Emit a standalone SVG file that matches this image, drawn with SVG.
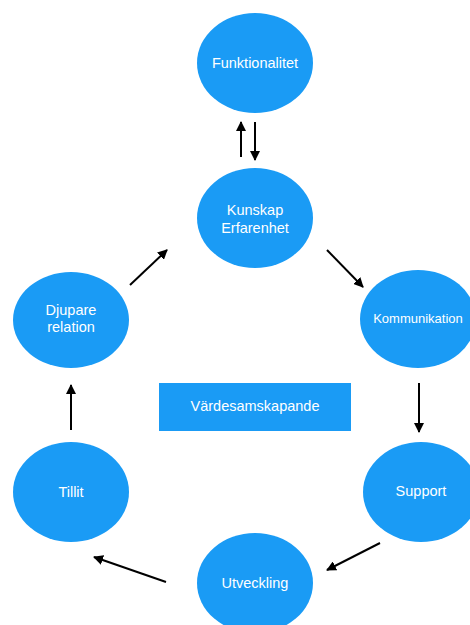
<svg xmlns="http://www.w3.org/2000/svg" width="470" height="625" viewBox="0 0 470 625">
<defs>
<style>
.n{fill:#1a9bf5}
.t{fill:#fff;font-family:"Liberation Sans",Arial,sans-serif;font-size:14.5px;text-anchor:middle}
.c{stroke:#000;stroke-width:2;fill:none;marker-end:url(#ah)}
</style>
<marker id="ah" viewBox="0 0 10 10" refX="9" refY="5" markerWidth="5" markerHeight="5" markerUnits="strokeWidth" orient="auto">
<path d="M0,0 L10,5 L0,10 z" fill="#000"/>
</marker>
</defs>
<rect width="470" height="625" fill="#fff"/>
<g id="connectors">
<line class="c" x1="241" y1="157" x2="241" y2="122"/>
<line class="c" x1="255" y1="122" x2="255" y2="160"/>
<line class="c" x1="327" y1="250" x2="363" y2="287"/>
<line class="c" x1="419" y1="383" x2="419" y2="432"/>
<line class="c" x1="380" y1="543" x2="327" y2="570"/>
<line class="c" x1="166" y1="582" x2="94" y2="557"/>
<line class="c" x1="71" y1="430" x2="71" y2="385"/>
<line class="c" x1="130" y1="285" x2="167" y2="250"/>
</g>
<g id="funktionalitet"><ellipse class="n" cx="255" cy="63" rx="58" ry="50"/><text class="t" x="255" y="68">Funktionalitet</text></g>
<g id="kunskap"><ellipse class="n" cx="255" cy="218" rx="58" ry="50"/><text class="t" x="255" y="215">Kunskap</text><text class="t" x="255" y="233">Erfarenhet</text></g>
<g id="kommunikation"><ellipse class="n" cx="418" cy="319" rx="58" ry="49"/><text class="t" x="418" y="323" style="font-size:13px">Kommunikation</text></g>
<g id="support"><ellipse class="n" cx="421" cy="492" rx="58" ry="50"/><text class="t" x="421" y="496">Support</text></g>
<g id="utveckling"><ellipse class="n" cx="255" cy="583" rx="58" ry="50"/><text class="t" x="255" y="588">Utveckling</text></g>
<g id="tillit"><ellipse class="n" cx="71" cy="492" rx="58" ry="50"/><text class="t" x="71" y="497">Tillit</text></g>
<g id="djupare"><ellipse class="n" cx="71" cy="320" rx="58" ry="48"/><text class="t" x="71" y="315">Djupare</text><text class="t" x="71" y="332">relation</text></g>
<g id="vardesamskapande"><rect class="n" x="159" y="383" width="192" height="48"/><text class="t" x="255" y="411">Värdesamskapande</text></g>
</svg>
